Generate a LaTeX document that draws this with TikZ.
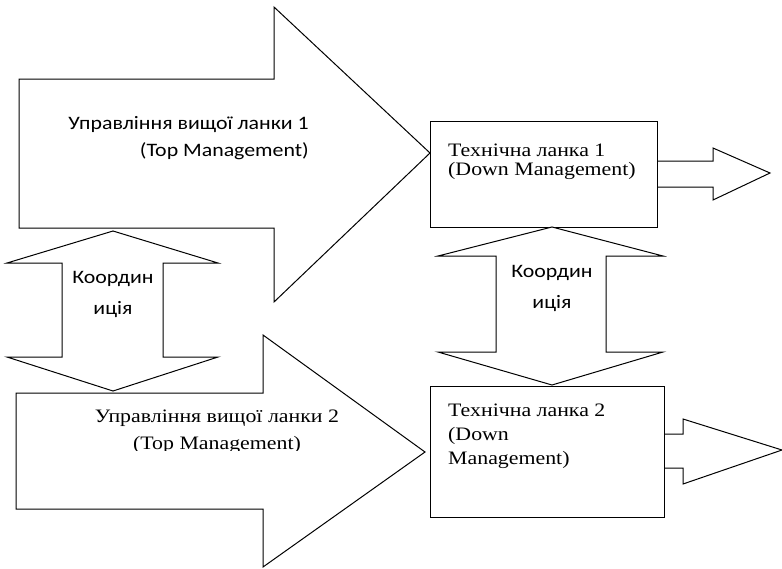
\documentclass[tikz,border=0pt]{standalone}
\usepackage{fontspec}
\setmainfont[FakeStretch=1.15]{Liberation Serif}
\newfontfamily\calfont[FakeStretch=1.15]{Carlito}
\tikzset{
  blockarrow/.style={draw, fill=white, line width=1pt, line join=miter},
  sanslabel/.style={font=\calfont\fontsize{19}{27}\selectfont, inner sep=0pt},
  seriflabel/.style={font=\fontsize{19}{19}\selectfont, inner sep=0pt, align=left},
  coordlabel/.style={font=\calfont\fontsize{19}{31}\selectfont, inner sep=0pt, align=center}
}
\begin{document}
\begin{tikzpicture}[x=1pt, y=-1pt]
\useasboundingbox (0,0) rectangle (782,568);

% Top management arrows
\draw[blockarrow] (19,79) -- (274,79) -- (274,7) -- (430,153) -- (274,302) -- (274,228) -- (19,228) -- cycle;
\draw[blockarrow] (16,393) -- (263,393) -- (263,335) -- (425,452) -- (263,567) -- (263,509) -- (16,509) -- cycle;

% Down management boxes
\node[draw, line width=1pt, minimum width=227pt, minimum height=106pt, anchor=north west] (down1) at (430,121) {};
\node[draw, line width=1pt, minimum width=234pt, minimum height=131pt, anchor=north west] (down2) at (430,386) {};

% Output arrows
\draw[blockarrow] (down1.east |- 0,161) -- (713,161) -- (713,148) -- (770,173) -- (713,200) -- (713,187) -- (down1.east |- 0,187);
\draw[blockarrow] (down2.east |- 0,434) -- (683,434) -- (683,419) -- (782,450) -- (683,484) -- (683,468) -- (down2.east |- 0,468);

% Coordination arrows
\draw[blockarrow] (113,231) -- (218,263) -- (163,263) -- (163,357) -- (218,357) -- (113,391) -- (7,357) -- (62,357) -- (62,263) -- (7,263) -- cycle;
\draw[blockarrow] (552,227) -- (663,256) -- (606,256) -- (606,352) -- (663,352) -- (552,385) -- (438,352) -- (496,352) -- (496,256) -- (438,256) -- cycle;

% Labels
\node[sanslabel, align=right, anchor=north east] (top1) at (309,116) {Управління вищої ланки 1\\(Top Management)};
\begin{scope}
\clip (16,393) rectangle (425,450);
\node[seriflabel, align=center, font=\fontsize{19}{27}\selectfont] (top2) at (217,432) {Управління вищої ланки 2\\(Top Management)};
\end{scope}
\node[seriflabel, anchor=north west] (dlab1) at (448,144) {Технічна ланка 1\\(Down Management)};
\node[seriflabel, anchor=north west, font=\fontsize{19}{24}\selectfont] (dlab2) at (448,404) {Технічна ланка 2\\(Down\\Management)};
\node[coordlabel] (coord1) at (113,294) {Координ\\иція};
\node[coordlabel] (coord2) at (552,288) {Координ\\иція};
\end{tikzpicture}
\end{document}
